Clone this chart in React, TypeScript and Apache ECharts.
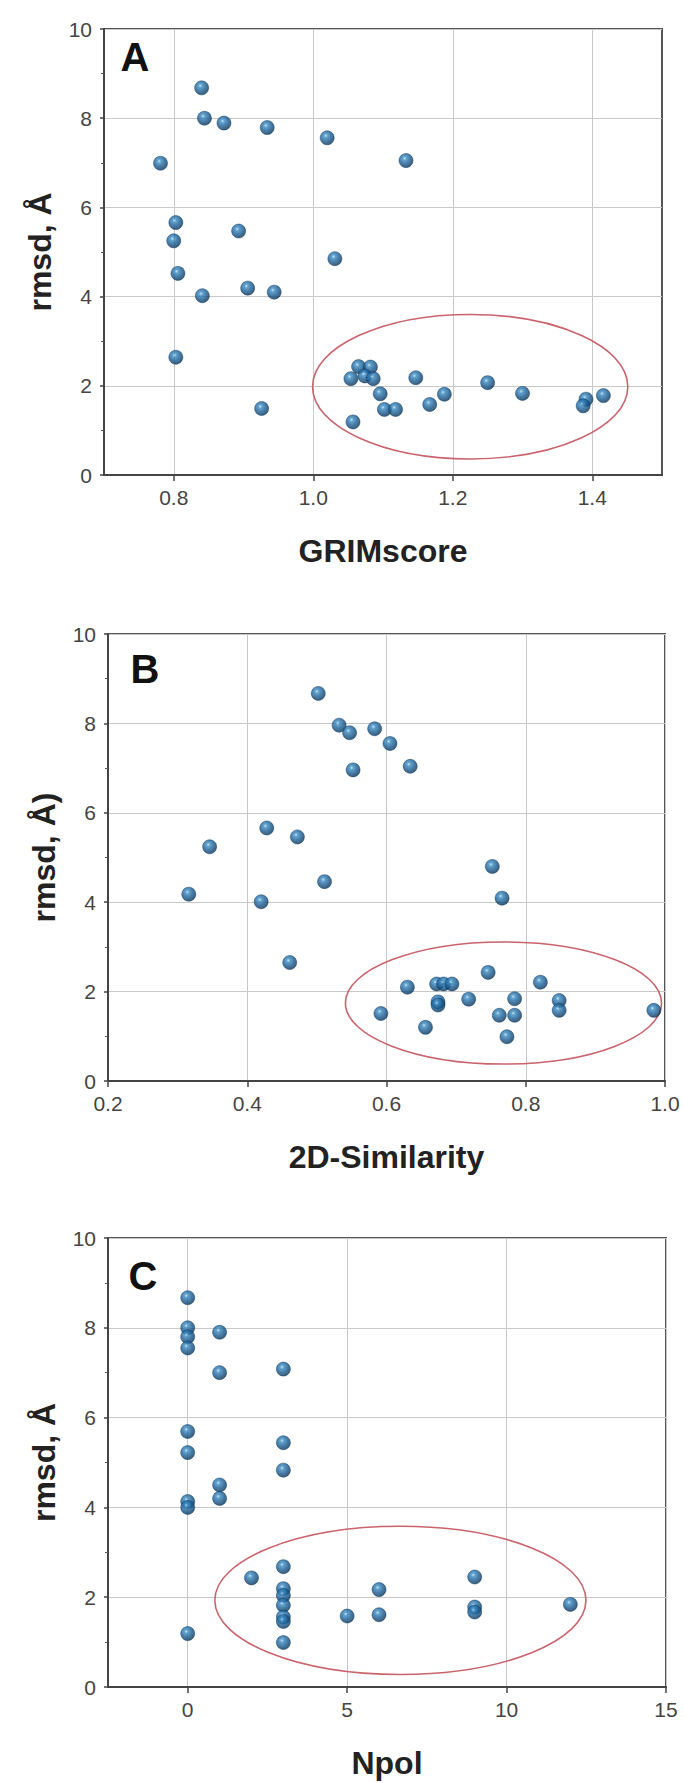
import React, { useEffect, useRef } from "react";
import * as echarts from "echarts";

// Panel A: GRIMscore vs rmsd
const grimX = [0.84, 0.844, 0.872, 0.934, 1.02, 1.133, 0.781, 0.803, 0.893, 0.80, 1.031, 0.806, 0.841, 0.906, 0.944, 0.803, 0.926, 1.065, 1.082, 1.054, 1.074, 1.086, 1.147, 1.25, 1.096, 1.188, 1.30, 1.167, 1.102, 1.118, 1.391, 1.387, 1.416, 1.057];
const grimY = [8.68, 8.0, 7.89, 7.79, 7.56, 7.05, 6.99, 5.66, 5.47, 5.25, 4.85, 4.52, 4.02, 4.19, 4.10, 2.64, 1.49, 2.43, 2.42, 2.16, 2.22, 2.16, 2.18, 2.07, 1.82, 1.81, 1.83, 1.58, 1.47, 1.47, 1.70, 1.55, 1.78, 1.19];

// Panel B: 2D-Similarity vs rmsd
const simX = [0.502, 0.532, 0.547, 0.583, 0.605, 0.552, 0.634, 0.428, 0.472, 0.346, 0.752, 0.511, 0.316, 0.42, 0.766, 0.461, 0.746, 0.63, 0.672, 0.682, 0.694, 0.821, 0.674, 0.674, 0.718, 0.784, 0.848, 0.848, 0.592, 0.762, 0.784, 0.984, 0.656, 0.773];
const simY = [8.67, 7.96, 7.79, 7.88, 7.55, 6.96, 7.04, 5.66, 5.46, 5.24, 4.80, 4.46, 4.18, 4.01, 4.09, 2.65, 2.43, 2.10, 2.17, 2.17, 2.17, 2.21, 1.77, 1.70, 1.83, 1.84, 1.80, 1.58, 1.51, 1.47, 1.47, 1.58, 1.20, 0.99];

// Panel C: Npol vs rmsd
const npolX = [0, 0, 0, 0, 1, 1, 3, 0, 0, 3, 3, 1, 1, 0, 0, 0, 2, 3, 3, 3, 3, 3, 3, 3, 5, 6, 6, 9, 9, 9, 12];
const npolY = [8.67, 8.0, 7.8, 7.55, 7.9, 7.0, 7.08, 5.69, 5.22, 5.44, 4.83, 4.50, 4.20, 4.13, 4.0, 1.19, 2.43, 2.68, 2.19, 2.04, 1.82, 1.56, 1.46, 0.99, 1.58, 2.17, 1.61, 2.45, 1.78, 1.67, 1.84];

// Highlight ellipses: [centerX, centerY, radiusX, radiusY] in data units
const ellipseA = [1.225, 1.98, 0.226, 1.62];
const ellipseB = [0.768, 1.745, 0.227, 1.365];
const ellipseC = [6.67, 1.93, 5.82, 1.65];

const yTicks = [0, 2, 4, 6, 8, 10];
const xTicksA = [0.8, 1.0, 1.2, 1.4];
const xTicksC = [0, 5, 10, 15];

const panelLetters = ["A", "B", "C"];
const xTitles = ["GRIMscore", "2D-Similarity", "Npol"];
const yTitles = ["rmsd, Å", "rmsd, Å)", "rmsd, Å"];

const FONT = "Liberation Sans, Arial, sans-serif";

const sphere = {
  type: "radial",
  x: 0.4,
  y: 0.35,
  r: 0.65,
  colorStops: [
    { offset: 0, color: "#b5e0f5" },
    { offset: 0.2, color: "#3d8cc2" },
    { offset: 0.55, color: "#1c6198" },
    { offset: 1, color: "#0b3559" },
  ],
};

function zip(xs: number[], ys: number[]) {
  return xs.map((x, i) => [x, ys[i]]);
}

export default function App() {
  const ref = useRef<HTMLDivElement>(null);
  useEffect(() => {
    if (!ref.current) return;
    const chart = echarts.init(ref.current, null, { renderer: "svg" });

    const grids = [
      { left: 104, top: 29, width: 558, height: 446 },
      { left: 108, top: 634, width: 557, height: 447 },
      { left: 108, top: 1238, width: 558, height: 449 },
    ];

    const commonX = (i: number) => ({
      type: "value",
      gridIndex: i,
      name: xTitles[i],
      nameLocation: "middle",
      nameGap: 60,
      nameTextStyle: { fontFamily: FONT, fontWeight: "bold", fontSize: 32, color: "#222" },
      axisLine: { show: true, onZero: false, lineStyle: { color: "#444", width: 2 } },
      axisTick: { show: true, length: 6, lineStyle: { color: "#444", width: 1.5 } },
      axisLabel: { fontFamily: FONT, fontSize: 21, color: "#444", margin: 12 },
      splitLine: { show: true, lineStyle: { color: "#c8c8c8", width: 1 } },
    });

    const xAxes = [
      {
        ...commonX(0),
        min: 0.7,
        max: 1.5,
        axisTick: { ...commonX(0).axisTick, customValues: xTicksA },
        axisLabel: { ...commonX(0).axisLabel, customValues: xTicksA, formatter: (v: number) => v.toFixed(1) },
      },
      {
        ...commonX(1),
        min: 0.2,
        max: 1.0,
        interval: 0.2,
        axisLabel: { ...commonX(1).axisLabel, formatter: (v: number) => v.toFixed(1) },
      },
      {
        ...commonX(2),
        min: -2.5,
        max: 15,
        axisTick: { ...commonX(2).axisTick, customValues: xTicksC },
        axisLabel: { ...commonX(2).axisLabel, customValues: xTicksC },
      },
    ];

    const yAxes = [0, 1, 2].map((i) => ({
      type: "value",
      gridIndex: i,
      min: yTicks[0],
      max: yTicks[yTicks.length - 1],
      interval: 2,
      name: yTitles[i],
      nameLocation: "middle",
      nameGap: 48,
      nameRotate: 90,
      nameTextStyle: { fontFamily: FONT, fontWeight: "bold", fontSize: 32, color: "#222" },
      axisLine: { show: true, onZero: false, lineStyle: { color: "#444", width: 2 } },
      axisTick: { show: true, length: 4, lineStyle: { color: "#444", width: 1.5 } },
      minorTick: { show: true, splitNumber: 2, length: 3, lineStyle: { color: "#555" } },
      axisLabel: { fontFamily: FONT, fontSize: 21, color: "#444", margin: 12 },
      splitLine: { show: true, lineStyle: { color: "#c8c8c8", width: 1 } },
    }));

    const datasets = [zip(grimX, grimY), zip(simX, simY), zip(npolX, npolY)];
    const ellipses = [ellipseA, ellipseB, ellipseC];

    const series: any[] = [];
    for (let i = 0; i < 3; i++) {
      series.push({
        type: "custom",
        xAxisIndex: i,
        yAxisIndex: i,
        silent: true,
        z: 3,
        data: [ellipses[i]],
        encode: { x: 0, y: 1 },
        renderItem: (params: any, api: any) => {
          const c = api.coord([api.value(0), api.value(1)]);
          const s = api.size([api.value(2), api.value(3)]);
          return {
            type: "ellipse",
            shape: { cx: c[0], cy: c[1], rx: s[0], ry: s[1] },
            style: { fill: "none", stroke: "#c9636c", lineWidth: 1.6 },
          };
        },
      });
      series.push({
        type: "scatter",
        xAxisIndex: i,
        yAxisIndex: i,
        z: 4,
        symbol: "circle",
        symbolSize: 14,
        data: datasets[i],
        itemStyle: { color: sphere, borderColor: "#0b3a62", borderWidth: 0.6 },
      });
    }

    const letterPos = [
      [135, 57],
      [145, 669],
      [143, 1276],
    ];

    chart.setOption({
      animation: false,
      backgroundColor: "#ffffff",
      grid: grids.map((g) => ({ ...g, show: true, borderColor: "#555", borderWidth: 2, backgroundColor: "transparent" })),
      xAxis: xAxes,
      yAxis: yAxes,
      series,
      graphic: panelLetters.map((t, i) => ({
        type: "text",
        x: letterPos[i][0],
        y: letterPos[i][1],
        z: 10,
        style: {
          text: t,
          fontFamily: FONT,
          fontWeight: "bold",
          fontSize: 40,
          fill: "#111",
          align: "center",
          verticalAlign: "middle",
        },
      })),
    });

    return () => chart.dispose();
  }, []);

  return (
    <div
      ref={ref}
      style={{ position: "absolute", left: 0, top: 0, width: 684, height: 1783, background: "#fff" }}
    />
  );
}
